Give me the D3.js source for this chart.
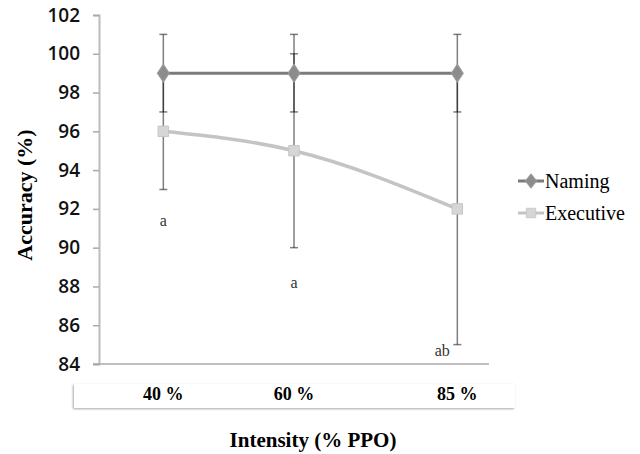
<!DOCTYPE html>
<html lang="en">
<head>
    <meta charset="UTF-8">
    <title>Accuracy by Intensity</title>
    <script src="https://d3js.org/d3.v7.min.js"></script>
    <style>
        body { margin: 0; background: #fff; }
    </style>
</head>
<body>

<div id="chart"></div>

<script>
    // data
    var intensities = [40, 60, 85];
    var categoryLabels = ["40 %", "60 %", "85 %"];
    var yTicks = [84, 86, 88, 90, 92, 94, 96, 98, 100, 102];

    var namingMean = [99, 99, 99];
    var namingErr = [2, 2, 2];
    var executiveMean = [96, 95, 92];
    var executiveErr = [3, 5, 7];

    var letters = ["a", "a", "ab"];
    var letterValues = [91.4, 88.2, 84.7];
    var letterShift = [0, 0, -15];

    var seriesNames = ["Naming", "Executive"];

    var width = 640, height = 454;

    var svg = d3.select("#chart")
        .append("svg")
        .attr("width", width)
        .attr("height", height);

    var x = d3.scaleLinear().domain([30, 90]).range([98, 490]);
    var y = d3.scaleLinear().domain([84, 102]).range([364, 15]);

    // label box under the axis
    svg.append("rect")
        .attr("x", 74).attr("y", 384)
        .attr("width", 441).attr("height", 24)
        .attr("fill", "#fff")
        .attr("stroke", "none")
        .style("filter", "drop-shadow(-1px 1.5px 1px rgba(0,0,0,0.35))");

    // y axis
    var yAxis = svg.append("g")
        .attr("transform", "translate(99,0)")
        .call(d3.axisLeft(y).tickValues(yTicks).tickSize(6).tickPadding(13));
    yAxis.select(".domain").attr("stroke", "#bbb").attr("stroke-width", 2);
    yAxis.selectAll(".tick line").attr("stroke", "#aaa").attr("stroke-width", 1.5);
    yAxis.selectAll(".tick text")
        .attr("fill", "#111")
        .style("font-family", "'Open Sans', sans-serif")
        .style("font-size", "19px")
        .style("font-weight", "600");

    // x axis line
    svg.append("line")
        .attr("x1", 93).attr("x2", 489)
        .attr("y1", y(84)).attr("y2", y(84))
        .attr("stroke", "#aaa").attr("stroke-width", 1.5);

    // category labels
    svg.selectAll(".cat")
        .data(intensities)
        .enter().append("text")
        .attr("class", "cat")
        .attr("x", function (d) { return x(d); })
        .attr("y", 400)
        .attr("text-anchor", "middle")
        .style("font-family", "'Liberation Serif', 'Times New Roman', serif")
        .style("font-size", "18px")
        .style("font-weight", "bold")
        .text(function (d, i) { return categoryLabels[i]; });

    // axis titles
    svg.append("text")
        .attr("x", 313).attr("y", 447)
        .attr("text-anchor", "middle")
        .style("font-family", "'Liberation Serif', 'Times New Roman', serif")
        .style("font-size", "21px")
        .style("font-weight", "bold")
        .text("Intensity (% PPO)");

    svg.append("text")
        .attr("transform", "translate(32,195) rotate(-90)")
        .attr("text-anchor", "middle")
        .style("font-family", "'Liberation Serif', 'Times New Roman', serif")
        .style("font-size", "22px")
        .style("font-weight", "bold")
        .text("Accuracy (%)");

    // error bars (semi-transparent so overlaps get darker)
    function errorBars(means, errs) {
        var g = svg.append("g")
            .attr("stroke", "#000")
            .attr("stroke-opacity", 0.5)
            .attr("stroke-width", 1.5);
        intensities.forEach(function (v, i) {
            var lo = y(means[i] - errs[i]), hi = y(means[i] + errs[i]), cx = x(v);
            g.append("line").attr("x1", cx).attr("x2", cx).attr("y1", lo).attr("y2", hi);
            g.append("line").attr("x1", cx - 4).attr("x2", cx + 4).attr("y1", lo).attr("y2", lo);
            g.append("line").attr("x1", cx - 4).attr("x2", cx + 4).attr("y1", hi).attr("y2", hi);
        });
    }
    errorBars(namingMean, namingErr);
    errorBars(executiveMean, executiveErr);

    // lines
    var namingLine = d3.line()
        .x(function (d, i) { return x(intensities[i]); })
        .y(function (d) { return y(d); });
    var execLine = d3.line()
        .x(function (d, i) { return x(intensities[i]); })
        .y(function (d) { return y(d); })
        .curve(d3.curveMonotoneX);

    svg.append("path")
        .datum(executiveMean)
        .attr("d", execLine)
        .attr("fill", "none")
        .attr("stroke", "#c4c4c4")
        .attr("stroke-width", 3.5);

    svg.append("path")
        .datum(namingMean)
        .attr("d", namingLine)
        .attr("fill", "none")
        .attr("stroke", "#7b7b7b")
        .attr("stroke-width", 3);

    // markers
    var diamond = d3.symbol().type(d3.symbolDiamond).size(90);
    var square = d3.symbol().type(d3.symbolSquare).size(110);

    svg.selectAll(".nm")
        .data(namingMean)
        .enter().append("path")
        .attr("class", "nm")
        .attr("d", diamond)
        .attr("transform", function (d, i) { return "translate(" + x(intensities[i]) + "," + y(d) + ") scale(1.15,1)"; })
        .attr("fill", "#8c8c8c")
        .attr("stroke", "#9a9a9a");

    svg.selectAll(".em")
        .data(executiveMean)
        .enter().append("path")
        .attr("class", "em")
        .attr("d", square)
        .attr("transform", function (d, i) { return "translate(" + x(intensities[i]) + "," + y(d) + ")"; })
        .attr("fill", "#d6d6d6")
        .attr("stroke", "#c6c6c6");

    // significance letters
    svg.selectAll(".let")
        .data(letters)
        .enter().append("text")
        .attr("class", "let")
        .attr("x", function (d, i) { return x(intensities[i]) + letterShift[i]; })
        .attr("y", function (d, i) { return y(letterValues[i]); })
        .attr("dy", "0.35em")
        .attr("text-anchor", "middle")
        .attr("fill", "#333")
        .style("font-family", "'Liberation Serif', 'Times New Roman', serif")
        .style("font-size", "16px")
        .text(function (d) { return d; });

    // legend
    var legend = svg.append("g");
    var legendY = [181, 213];
    var legendColors = ["#7b7b7b", "#c4c4c4"];
    seriesNames.forEach(function (name, i) {
        var ly = legendY[i];
        legend.append("line")
            .attr("x1", 518).attr("x2", 544)
            .attr("y1", ly).attr("y2", ly)
            .attr("stroke", legendColors[i]).attr("stroke-width", 3);
        legend.append("path")
            .attr("d", i === 0 ? diamond : square)
            .attr("transform", "translate(531," + ly + ")" + (i === 0 ? " scale(1.1,0.8)" : " scale(0.9)"))
            .attr("fill", i === 0 ? "#8c8c8c" : "#d6d6d6")
            .attr("stroke", i === 0 ? "#9a9a9a" : "#c6c6c6");
        legend.append("text")
            .attr("x", 545).attr("y", ly)
            .attr("dy", "0.35em")
            .style("font-family", "'Liberation Serif', 'Times New Roman', serif")
            .style("font-size", "20px")
            .text(name);
    });
</script>

</body>
</html>
